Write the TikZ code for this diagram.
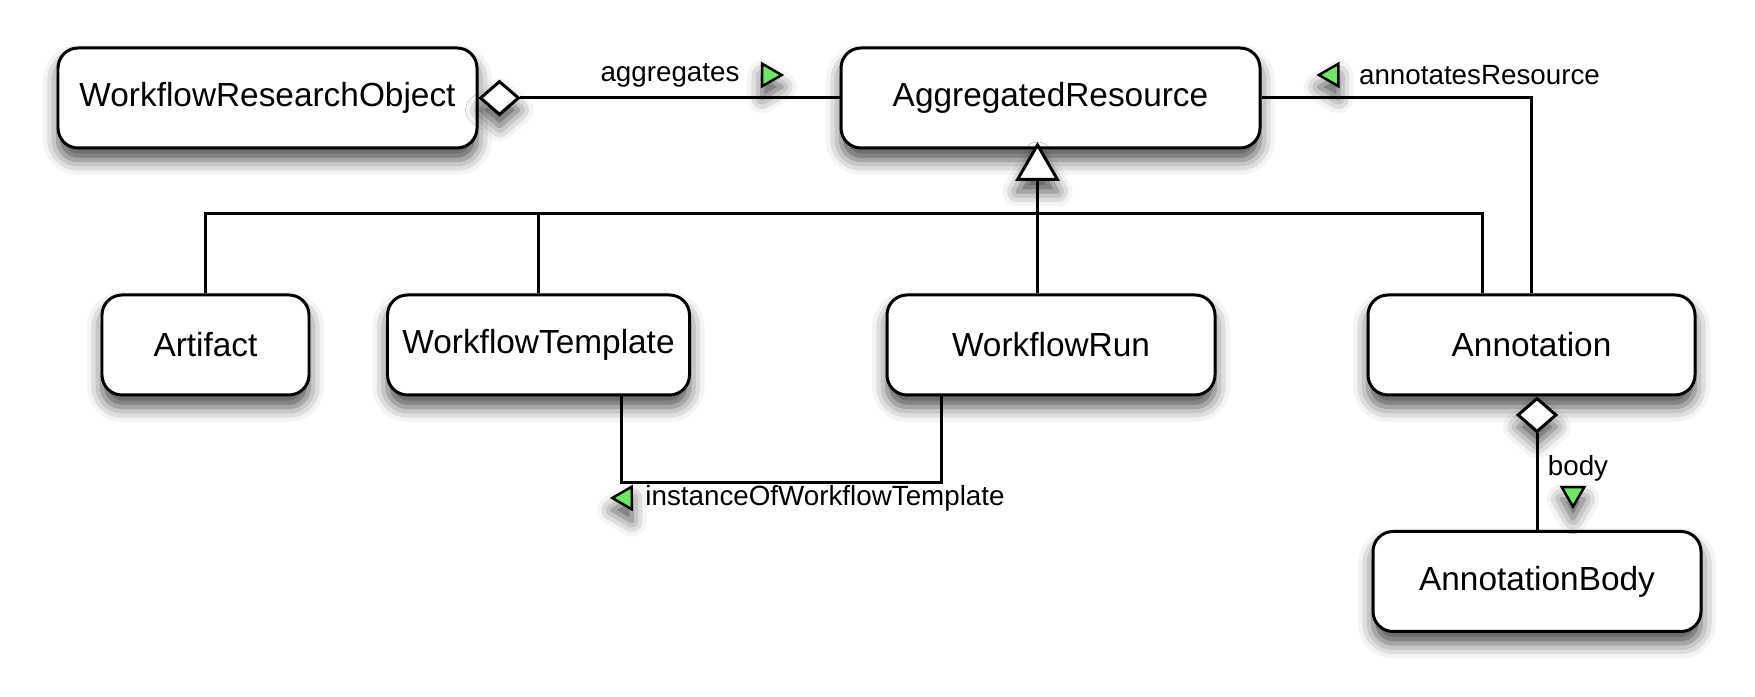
\documentclass[tikz,border=0pt]{standalone}
\usepackage{fontspec}
\setmainfont{Liberation Sans}
\usetikzlibrary{positioning,shapes.geometric,shadows.blur}
\definecolor{navgreen}{RGB}{108,232,98}

\begin{document}
\begin{tikzpicture}[
    font=\fontsize{9.5}{11}\selectfont,
    line width=0.85pt,
    softshade/.style={
        blur shadow={shadow xshift=0mm,shadow yshift=-1.2mm,
            shadow blur radius=1.5mm,shadow opacity=70}
    },
    cls/.style={
        draw=black,fill=white,rounded corners=2mm,
        minimum height=1cm,inner sep=0pt,softshade
    },
    aggdia/.style={
        diamond,draw=black,fill=white,inner sep=0pt,
        minimum width=3.9mm,minimum height=3.4mm,softshade
    },
    genhead/.style={
        regular polygon,regular polygon sides=3,draw=black,fill=white,
        inner sep=0pt,minimum size=4.6mm,softshade
    },
    dirmark/.style={
        regular polygon,regular polygon sides=3,draw=black,fill=navgreen,
        inner sep=0pt,minimum size=2.6mm,line width=0.7pt,softshade
    },
    lbl/.style={inner sep=0pt,font=\fontsize{7.9}{9.5}\selectfont}
]
% Canvas in the proportions of the original drawing.
\path[use as bounding box] (0,0) rectangle (17.55,-6.97);

\node[cls,minimum width=4.19cm] (wro) at (2.675,-0.98) {WorkflowResearchObject};
\node[cls,minimum width=4.19cm] (agg) at (10.505,-0.98) {AggregatedResource};

\node[cls,minimum width=2.07cm] (artifact) at (2.055,-3.45) {Artifact};
\node[cls,minimum width=3.02cm] (wtemplate) at (5.385,-3.45) {WorkflowTemplate};
\node[cls,minimum width=3.28cm] (wrun) at (10.51,-3.45) {WorkflowRun};
\node[cls,minimum width=3.27cm] (annot) at (15.315,-3.45) {Annotation};
\node[cls,minimum width=3.28cm] (abody) at (15.37,-5.815) {AnnotationBody};

% Aggregation of resources by the research object.
\node[aggdia,anchor=west] (aggd) at (wro.east) {};
\draw (aggd.east) -- (agg.west);
\node[lbl] (agglbl) at (6.70,-0.75) {aggregates};
\node[dirmark,shape border rotate=-90,right=2mm of agglbl] (aggdir) {};

% Annotation points back at the resource it annotates.
\draw (agg.east) -| (annot.north);
\node[lbl] (annlbl) at (14.795,-0.75) {annotatesResource};
\node[dirmark,shape border rotate=90,left=1.8mm of annlbl] (anndir) {};

% Generalization: one open triangle and a shared bus.
\node[genhead,anchor=corner 1] (gen) at (10.375,-1.42) {};
\draw (gen.south) -- (gen.south |- wrun.north);
\coordinate (bus) at (0,-2.14);
\coordinate (adrop) at ([xshift=-4.9mm]annot.north);
\draw (artifact.north) -- (artifact.north |- bus) -- (adrop |- bus) -- (adrop);
\draw (wtemplate.north) -- (wtemplate.north |- bus);

% Run is an instance of a template.
\coordinate (wtout) at ([xshift=8.3mm]wtemplate.south);
\coordinate (wrin) at ([xshift=-11mm]wrun.south);
\draw (wtout) -- ++(0,-0.86) -| (wrin);
\node[lbl] (instlbl) at (8.25,-4.98) {instanceOfWorkflowTemplate};
\node[dirmark,shape border rotate=90,left=1.1mm of instlbl] (instdir) {};

% Annotation body.
\node[aggdia,anchor=north] (bodyd) at (abody.north |- annot.south) {};
\draw (bodyd.south) -- (abody.north);
\node[lbl] (bodylbl) at (15.78,-4.685) {body};
\node[dirmark,shape border rotate=180,below=0.3mm of bodylbl,xshift=-0.5mm] (bodydir) {};
\end{tikzpicture}
\end{document}
